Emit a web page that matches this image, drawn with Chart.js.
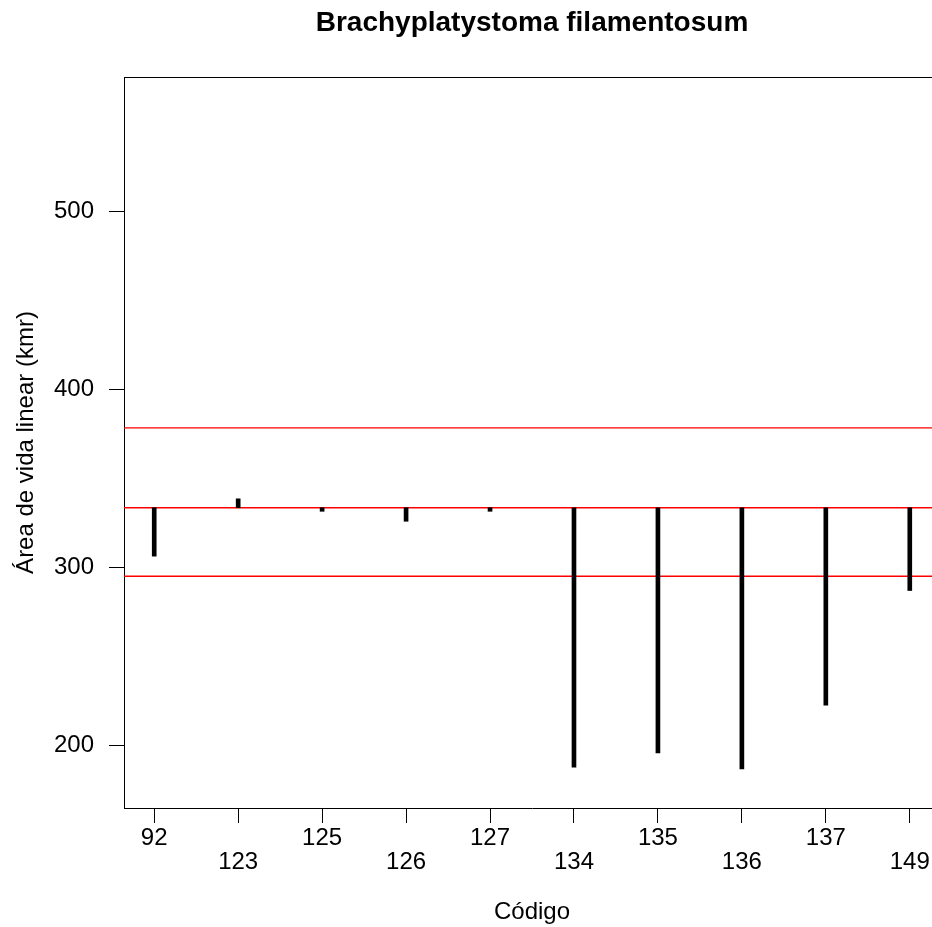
<!DOCTYPE html>
<html>
<head>
<meta charset="utf-8">
<script src="https://cdn.jsdelivr.net/npm/chart.js@4/dist/chart.umd.min.js"></script>
<style>
  html, body { margin: 0; padding: 0; background: #fff; overflow: hidden; }
  #wrap { width: 941px; height: 927px; }
</style>
</head>
<body>
<div id="wrap"><canvas id="c" width="941" height="927"></canvas></div>
<script>
// ---- data ----
const categories = ['92', '123', '125', '126', '127', '134', '135', '136', '137', '149'];
const baseline = 333.7;
const values = [306.5, 338.7, 331.7, 326.1, 331.7, 187.9, 196.0, 187.0, 222.8, 287.2];
const refLines = [378.6, 333.7, 295.2];
const yTicks = [200, 300, 400, 500];
const titleText = 'Brachyplatystoma filamentosum';
const xTitle = 'Código';
const yTitle = 'Área de vida linear (kmr)';

const FONT = '"Liberation Sans", Arial, sans-serif';
const xMin = -0.36, xMax = categories.length - 1 + 0.36;

const datasets = [{
  type: 'bar',
  data: values.map((v, i) => ({ x: i, y: [baseline, v] })),
  backgroundColor: '#000',
  borderWidth: 0,
  barThickness: 4,
  order: 1
}];
refLines.forEach(v => {
  datasets.push({
    type: 'line',
    data: [{ x: xMin, y: v }, { x: xMax, y: v }],
    borderColor: '#ff0000',
    borderWidth: 1.3,
    pointRadius: 0,
    fill: false,
    order: 2
  });
});

const textPlugin = {
  id: 'texts',
  afterDraw(chart) {
    const ctx = chart.ctx, a = chart.chartArea;
    ctx.save();
    ctx.strokeStyle = '#000';
    ctx.lineWidth = 1;
    ctx.beginPath();
    ctx.moveTo(a.left, Math.round(a.top) + 0.5);
    ctx.lineTo(a.right, Math.round(a.top) + 0.5);
    ctx.lineTo(a.right, a.bottom);
    ctx.stroke();
    const cx = (a.left + a.right) / 2;
    ctx.fillStyle = '#000';
    ctx.textAlign = 'center';
    ctx.textBaseline = 'middle';
    ctx.font = 'bold 28px ' + FONT;
    ctx.fillText(titleText, cx, 23);
    ctx.font = '24px ' + FONT;
    ctx.textBaseline = 'alphabetic';
    ctx.fillText(xTitle, cx, 919);
    ctx.translate(33, (a.top + a.bottom) / 2);
    ctx.rotate(-Math.PI / 2);
    ctx.fillText(yTitle, 0, 0);
    ctx.restore();
  }
};

new Chart(document.getElementById('c'), {
  data: { datasets },
  options: {
    responsive: false,
    animation: false,
    devicePixelRatio: 1,
    layout: { padding: { top: 77, left: 0, right: 1, bottom: 0 } },
    plugins: { legend: { display: false }, tooltip: { enabled: false }, title: { display: false } },
    scales: {
      x: {
        type: 'linear',
        offset: false,
        min: xMin,
        max: xMax,
        afterBuildTicks: s => { s.ticks = categories.map((_, i) => ({ value: i })); },
        afterFit: s => { s.height = 927 - 808; },
        grid: { display: true, offset: false, drawOnChartArea: false, drawTicks: true, tickLength: 15, color: '#000', tickColor: '#000', lineWidth: 1 },
        border: { display: true, color: '#000', width: 1 },
        ticks: {
          autoSkip: false,
          maxRotation: 0,
          minRotation: 0,
          padding: 3,
          color: '#000',
          font: { family: FONT, size: 24, lineHeight: 1.0 },
          callback: v => {
            const i = Math.round(v);
            const lab = categories[i];
            return i % 2 === 1 ? ['', lab] : lab;
          }
        }
      },
      y: {
        type: 'linear',
        min: 165.0,
        max: 575.7,
        afterBuildTicks: s => { s.ticks = yTicks.map(v => ({ value: v })); },
        afterFit: s => { s.width = 124; },
        grid: { display: true, drawOnChartArea: false, drawTicks: true, tickLength: 15, color: '#000', tickColor: '#000', lineWidth: 1 },
        border: { display: true, color: '#000', width: 1 },
        ticks: {
          padding: 15,
          color: '#000',
          font: { family: FONT, size: 24 },
          callback: v => String(v)
        }
      }
    }
  },
  plugins: [textPlugin]
});
</script>
</body>
</html>
